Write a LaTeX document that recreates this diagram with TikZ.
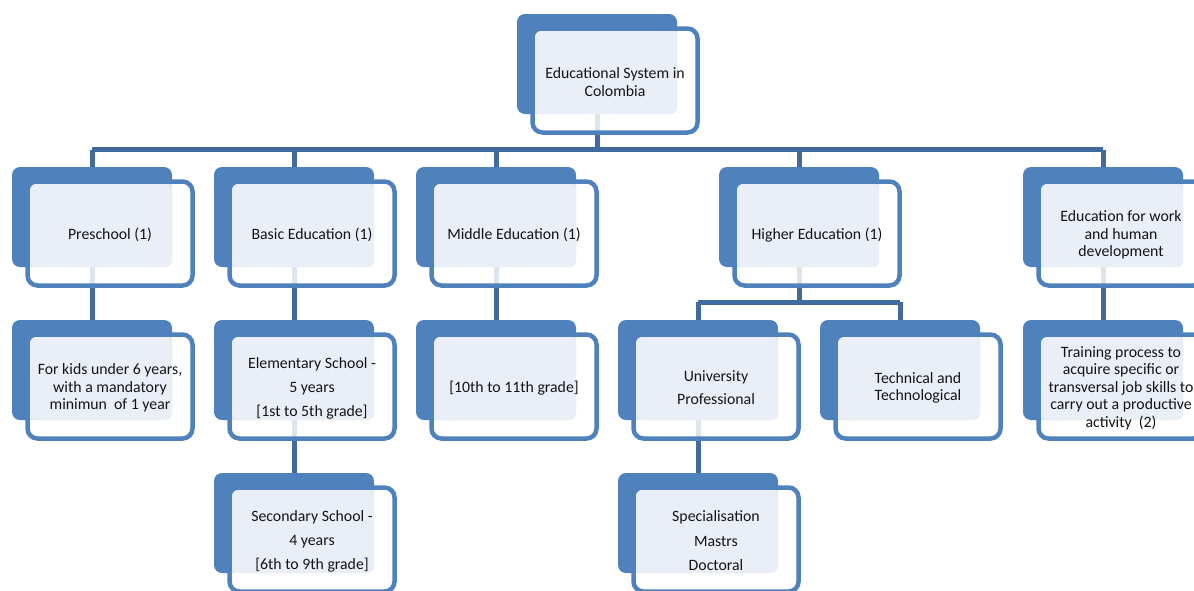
\documentclass[tikz,border=0pt]{standalone}
\usepackage{fontspec}
\setmainfont{Carlito}
\usetikzlibrary{backgrounds}
\definecolor{boxblue}{HTML}{4F81BD}
\definecolor{connblue}{HTML}{416AA0}
\definecolor{lightfill}{HTML}{EAEFF7}
\definecolor{txtcol}{HTML}{141414}
\tikzset{
  backbox/.style={fill=boxblue, rounded corners=8pt},
  frontbox/.style={draw=boxblue, line width=4.5pt, fill=white, fill opacity=0.82, rounded corners=10pt},
  lightbox/.style={fill=lightfill, rounded corners=6pt},
  txt/.style={align=center, text=txtcol, font=\fontsize{15.8}{17.5}\selectfont, inner sep=0pt},
  conn/.style={draw=connblue, line width=5pt}
}
\newcommand\eitem[4]{%
  \coordinate (#1-top) at (#2+80,#3);
  \coordinate (#1-bot) at (#2+80,#3+100);
  \fill[backbox] (#2,#3) rectangle (#2+160,#3+100);
  \draw[frontbox] (#2+15.5,#3+14.5) rectangle (#2+180.5,#3+118.5);
  \fill[lightbox] (#2+18,#3+17) rectangle (#2+160,#3+100);
  \node[txt] (#1) at (#2+98,#3+68) {#4};
}
\begin{document}
\begin{tikzpicture}[x=1pt,y=-1pt]
\useasboundingbox (0,0) rectangle (1194,590);
\clip (0,0) rectangle (1194,590);
\eitem{sys}{517}{14}{Educational System in\\[0.5pt]Colombia}
\eitem{pre}{12}{167}{Preschool (1)}
\eitem{basic}{214}{167}{Basic Education (1)}
\eitem{mid}{416}{167}{Middle Education (1)}
\eitem{high}{719}{167}{Higher Education (1)}
\eitem{work}{1023}{167}{Education for work\\and human\\development}
\eitem{kids}{12}{320}{For kids under 6 years,\\with a mandatory\\minimun\ \ of 1 year}
\eitem{elem}{214}{320}{Elementary School -\\[6.5pt]5 years\\[6.5pt]{[}1st to 5th grade{]}}
\eitem{grade}{416}{320}{{[}10th to 11th grade{]}}
\eitem{univ}{618}{320}{University\\[5.5pt]Professional}
\eitem{tech}{820}{320}{Technical and\\Technological}
\eitem{train}{1023}{320}{Training process to\\acquire specific or\\transversal job skills to\\carry out a productive\\activity\ \ (2)}
\eitem{sec}{214}{473}{Secondary School -\\[6.5pt]4 years\\[6.5pt]{[}6th to 9th grade{]}}
\eitem{spec}{618}{473}{Specialisation\\[7pt]Mastrs\\[7pt]Doctoral}
\coordinate (bar) at (0,149.5);
\coordinate (hbar) at (0,302);
\begin{pgfonlayer}{background}
  \draw[conn] (sys-bot) -- (sys-bot |- bar);
  \draw[conn] (pre-top |- bar) -- (work-top |- bar);
  \foreach \n in {pre,basic,mid,high,work} {
    \draw[conn] (\n-top |- bar) -- (\n-top);
  }
  \draw[conn] (pre-bot) -- (kids-top);
  \draw[conn] (basic-bot) -- (elem-top);
  \draw[conn] (elem-bot) -- (sec-top);
  \draw[conn] (mid-bot) -- (grade-top);
  \draw[conn] (work-bot) -- (train-top);
  \draw[conn] (high-bot) -- (high-bot |- hbar);
  \draw[conn] (univ-top |- hbar) -- (tech-top |- hbar);
  \draw[conn] (univ-top |- hbar) -- (univ-top);
  \draw[conn] (tech-top |- hbar) -- (tech-top);
  \draw[conn] (univ-bot) -- (spec-top);
\end{pgfonlayer}
\end{tikzpicture}
\end{document}
